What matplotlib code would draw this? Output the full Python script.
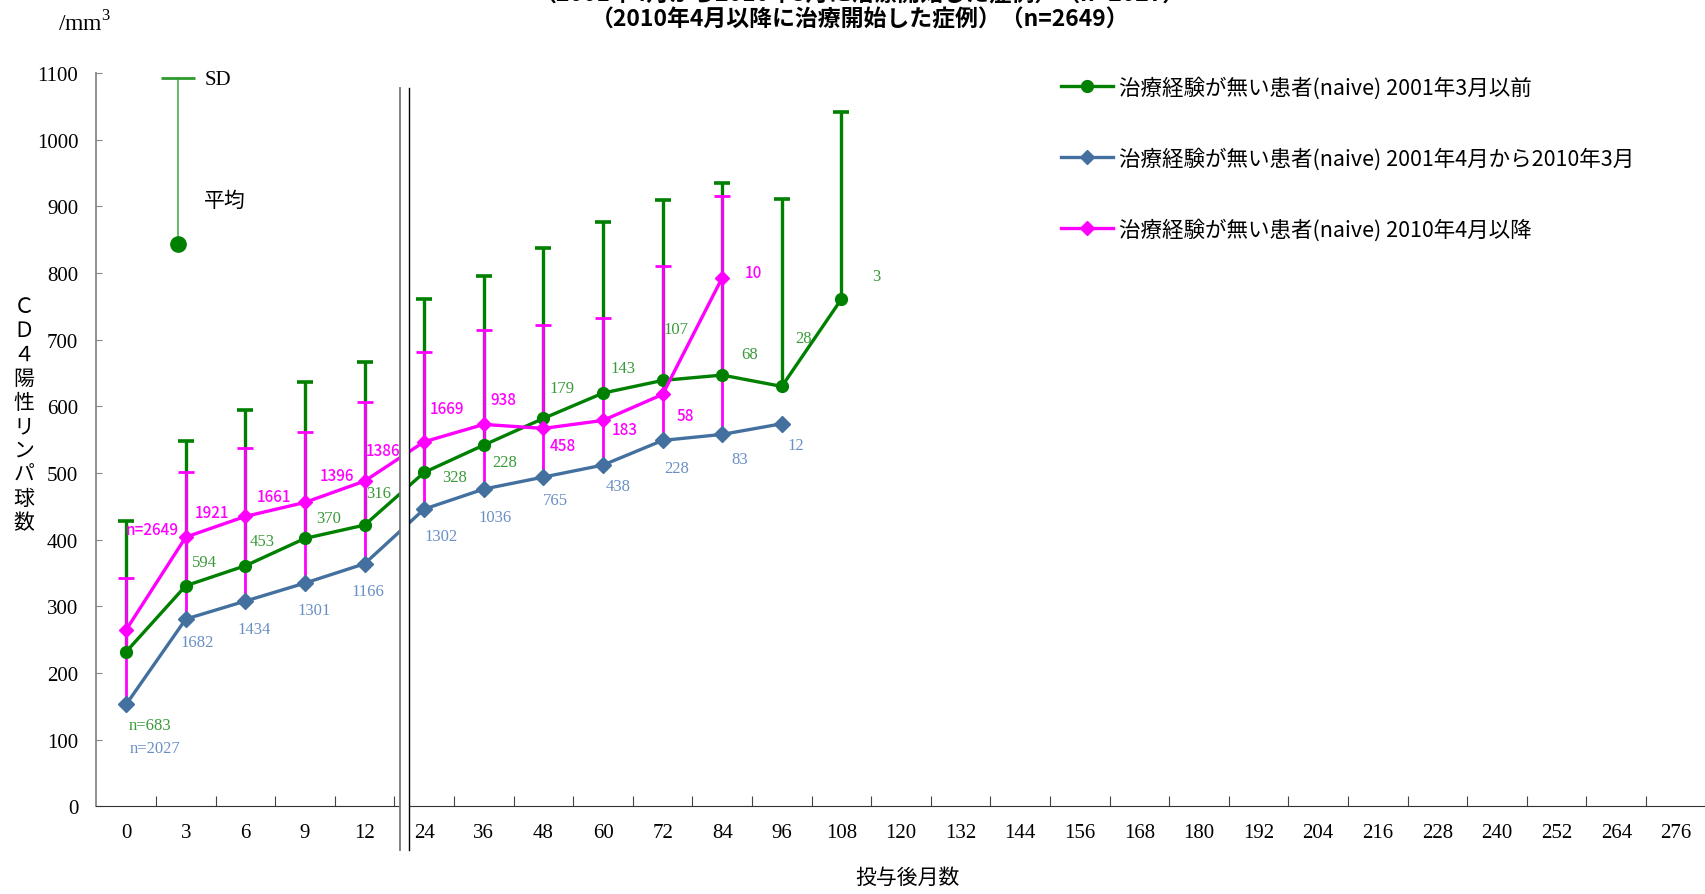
import matplotlib.pyplot as plt
import numpy as np
from matplotlib.lines import Line2D
from matplotlib.patches import Rectangle

plt.rcParams['font.family'] = ['Liberation Serif', 'Noto Sans CJK JP', 'DejaVu Sans']
plt.rcParams['mathtext.fontset'] = 'custom'
plt.rcParams['mathtext.rm'] = 'Liberation Serif'
jp = ['Noto Sans CJK JP', 'DejaVu Sans']

# x categories (months after start)
months = ['0', '3', '6', '9', '12', '24', '36', '48', '60', '72', '84', '96', '108',
          '120', '132', '144', '156', '168', '180', '192', '204', '216', '228',
          '240', '252', '264', '276']

# naive, before 2001/3 (green)
old_mean = [232, 331, 361, 402, 422, 501, 542, 582, 620, 639, 647, 630, 761]
old_sd = [196, 217, 233, 234, 245, 260, 254, 255, 257, 270, 288, 281, 280]
old_n = ['n=683', '594', '453', '370', '316', '328', '228', '179', '143', '107', '68', '28', '3']

# naive, 2001/4 - 2010/3 (blue); its SD bars are drawn in magenta
mid_mean = [153, 281, 308, 335, 364, 446, 476, 494, 512, 549, 558, 574]
mid_sd = [189, 221, 230, 227, 243, 235, 238, 228, 220, 261, 358]
mid_n = ['n=2027', '1682', '1434', '1301', '1166', '1302', '1036', '765', '438', '228', '83', '12']

# naive, 2010/4 onward (magenta)
new_mean = [265, 404, 435, 456, 488, 547, 573, 567, 579, 618, 793]
new_n = ['n=2649', '1921', '1661', '1396', '1386', '1669', '938', '458', '183', '58', '10']

# label offsets from each point (x in categories, y in cells/mm3)
old_off = [(0.40, -110), (0.31, 35), (0.28, 37), (0.40, 30), (0.24, 48), (0.51, -7),
           (0.35, -25), (0.32, 45), (0.33, 38), (0.22, 77), (0.46, 32), (0.37, 72), (0.58, 34)]
mid_off = [(0.49, -66), (0.19, -35), (0.15, -42), (0.16, -40), (0.05, -41), (0.28, -40),
           (0.19, -42), (0.21, -35), (0.25, -31), (0.24, -41), (0.30, -37), (0.23, -32)]
new_off = [(0.44, 150), (0.44, 37), (0.48, 30), (0.54, 40), (0.31, 46), (0.39, 50),
           (0.32, 37), (0.32, -25), (0.36, -14), (0.38, -32), (0.52, 8)]

green = '#008000'
blue = '#44709f'
magenta = '#ff00ff'
green_txt = '#3a9a3a'
blue_txt = '#6a8fc4'

fig = plt.figure(figsize=(17.06, 8.95), dpi=100)
ax = fig.add_axes([0.0565, 0.0979, 0.9433, 0.8193])

x = np.arange(len(months))
xo = x[:len(old_mean)]
xm = x[:len(mid_mean)]
xn = x[:len(new_mean)]

# SD bars (upper side only)
ax.vlines(xo, old_mean, np.add(old_mean, old_sd), color=green, lw=2.4, zorder=2)
ax.plot(xo, np.add(old_mean, old_sd), ls='none', marker='_', ms=11, mew=2.6, color=green, zorder=2)
xs = xm[:len(mid_sd)]
ax.vlines(xs, mid_mean[:len(mid_sd)], np.add(mid_mean[:len(mid_sd)], mid_sd), color=magenta, lw=2, zorder=2.5)
ax.plot(xs, np.add(mid_mean[:len(mid_sd)], mid_sd), ls='none', marker='_', ms=12, mew=2, color=magenta, zorder=2.5)

ax.plot(xm, mid_mean, color=blue, lw=2.4, marker='D', ms=8, zorder=3)
ax.plot(xo, old_mean, color=green, lw=2.4, marker='o', ms=8.5, zorder=3.5)
ax.plot(xn, new_mean, color=magenta, lw=2.4, marker='D', ms=7, zorder=4)

for i, t in enumerate(old_n):
    ax.text(xo[i] + old_off[i][0], old_mean[i] + old_off[i][1], t, color=green_txt,
            fontsize=12, ha='center', va='center')
for i, t in enumerate(mid_n):
    ax.text(xm[i] + mid_off[i][0], mid_mean[i] + mid_off[i][1], t, color=blue_txt,
            fontsize=12, ha='center', va='center')
for i, t in enumerate(new_n):
    ax.text(xn[i] + new_off[i][0], new_mean[i] + new_off[i][1], t, color=magenta,
            fontsize=11, ha='center', va='center', family=jp, fontweight='medium')

# SD / mean key
ax.plot([0.864, 0.864], [843, 1093], color='#4caf50', lw=1.2, zorder=2)
ax.plot([0.864], [1093], marker='_', ms=25, mew=2, color='#2e9a2e')
ax.plot([0.864], [843], marker='o', ms=11, color=green)
ax.text(1.31, 1090, 'SD', fontsize=15, va='center', ha='left')
ax.text(1.31, 910, '平均', fontsize=15, va='center', ha='left', family=jp)

# axis break
ax.add_patch(Rectangle((4.586, -65), 0.151, 1146, facecolor='white', edgecolor='none',
                       zorder=10, clip_on=False))
ax.plot([4.586, 4.586], [-65, 1078], color='#777777', lw=1.3, zorder=11, clip_on=False)
ax.plot([4.737, 4.737], [-65, 1078], color='black', lw=1.0, zorder=11, clip_on=False)

ax.set_xlim(-0.5, len(months) - 0.5)
ax.set_ylim(0, 1100)
ax.set_yticks(np.arange(0, 1101, 100))
ax.set_xticks(x[:-1] + 0.5)
ax.set_xticklabels([])
ax.set_xticks(x, minor=True)
ax.set_xticklabels(months, minor=True)
ax.tick_params(axis='x', which='major', direction='in', length=7, color='#444444')
ax.tick_params(axis='x', which='minor', length=0, pad=12, labelsize=15)
ax.tick_params(axis='y', direction='in', length=4, color='#888888', pad=13, labelsize=15)
for s in ['top', 'right']:
    ax.spines[s].set_visible(False)
ax.spines['left'].set_color('#888888')
ax.spines['left'].set_linewidth(1.3)
ax.spines['bottom'].set_color('#333333')

handles = [Line2D([], [], color=green, lw=2.4, marker='o', ms=8.5),
           Line2D([], [], color=blue, lw=2.4, marker='D', ms=7),
           Line2D([], [], color=magenta, lw=2.4, marker='D', ms=7)]
labels = ['治療経験が無い患者(naive) 2001年3月以前',
          '治療経験が無い患者(naive) 2001年4月から2010年3月',
          '治療経験が無い患者(naive) 2010年4月以降']
fig.legend(handles, labels, loc='upper left', bbox_to_anchor=(1061 / 1706, 1 - 77 / 895),
           frameon=False, prop={'family': jp, 'size': 15.5}, handlelength=2.4,
           handletextpad=0.3, labelspacing=2.25, borderpad=0, borderaxespad=0)

fig.text(0.504, 1 + 5 / 895, '（2001年4月から2010年3月に治療開始した症例）（n=2027）',
         ha='center', va='center', fontsize=16.5, fontweight='bold', family=jp)
fig.text(0.504, 1 - 20 / 895, '（2010年4月以降に治療開始した症例）（n=2649）',
         ha='center', va='center', fontsize=16.5, fontweight='bold', family=jp)
fig.text(58 / 1706, 1 - 24 / 895, '/mm$^3$', fontsize=17, ha='left', va='center')
fig.text(24 / 1706, 1 - 415 / 895, '\n'.join('ＣＤ４陽性リンパ球数'), fontsize=15,
         ha='center', va='center', linespacing=1.12, family=jp)
fig.text(908 / 1706, 1 - 878 / 895, '投与後月数', fontsize=15, ha='center', va='center', family=jp)

fig.savefig('out.png', dpi=100)
